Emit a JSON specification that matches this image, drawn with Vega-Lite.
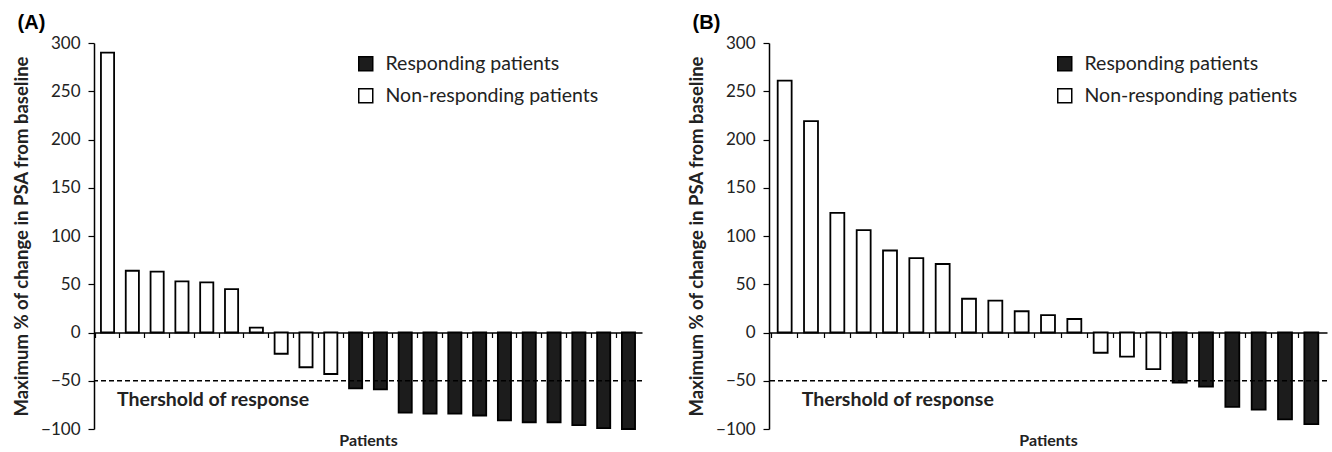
{
  "$schema": "https://vega.github.io/schema/vega-lite/v6.json",
  "padding": {"left": 12, "top": 13, "right": 0, "bottom": 0},
  "background": "white",
  "config": {
    "view": {"stroke": null},
    "font": "Lato",
    "axis": {"grid": false, "domainColor": "black", "tickColor": "black", "domainWidth": 1.5, "tickWidth": 1.2, "labelColor": "#222", "titleColor": "#222", "labelFont": "Lato", "titleFont": "Lato"},
    "title": {"font": "Liberation Sans", "fontSize": 20, "fontWeight": "bold", "anchor": "start", "frame": "bounds", "color": "black", "offset": 1, "dx": 5}
  },
  "datasets": {
    "a": [
      {"patient": 1, "change": 290, "group": "Non-responding patients"},
      {"patient": 2, "change": 64, "group": "Non-responding patients"},
      {"patient": 3, "change": 63, "group": "Non-responding patients"},
      {"patient": 4, "change": 53, "group": "Non-responding patients"},
      {"patient": 5, "change": 52, "group": "Non-responding patients"},
      {"patient": 6, "change": 45, "group": "Non-responding patients"},
      {"patient": 7, "change": 5, "group": "Non-responding patients"},
      {"patient": 8, "change": -22, "group": "Non-responding patients"},
      {"patient": 9, "change": -36, "group": "Non-responding patients"},
      {"patient": 10, "change": -43, "group": "Non-responding patients"},
      {"patient": 11, "change": -58, "group": "Responding patients"},
      {"patient": 12, "change": -59, "group": "Responding patients"},
      {"patient": 13, "change": -83, "group": "Responding patients"},
      {"patient": 14, "change": -84, "group": "Responding patients"},
      {"patient": 15, "change": -84, "group": "Responding patients"},
      {"patient": 16, "change": -86, "group": "Responding patients"},
      {"patient": 17, "change": -91, "group": "Responding patients"},
      {"patient": 18, "change": -93, "group": "Responding patients"},
      {"patient": 19, "change": -93, "group": "Responding patients"},
      {"patient": 20, "change": -96, "group": "Responding patients"},
      {"patient": 21, "change": -99, "group": "Responding patients"},
      {"patient": 22, "change": -100, "group": "Responding patients"}
    ],
    "b": [
      {"patient": 1, "change": 261, "group": "Non-responding patients"},
      {"patient": 2, "change": 219, "group": "Non-responding patients"},
      {"patient": 3, "change": 124, "group": "Non-responding patients"},
      {"patient": 4, "change": 106, "group": "Non-responding patients"},
      {"patient": 5, "change": 85, "group": "Non-responding patients"},
      {"patient": 6, "change": 77, "group": "Non-responding patients"},
      {"patient": 7, "change": 71, "group": "Non-responding patients"},
      {"patient": 8, "change": 35, "group": "Non-responding patients"},
      {"patient": 9, "change": 33, "group": "Non-responding patients"},
      {"patient": 10, "change": 22, "group": "Non-responding patients"},
      {"patient": 11, "change": 18, "group": "Non-responding patients"},
      {"patient": 12, "change": 14, "group": "Non-responding patients"},
      {"patient": 13, "change": -21, "group": "Non-responding patients"},
      {"patient": 14, "change": -25, "group": "Non-responding patients"},
      {"patient": 15, "change": -38, "group": "Non-responding patients"},
      {"patient": 16, "change": -52, "group": "Responding patients"},
      {"patient": 17, "change": -56, "group": "Responding patients"},
      {"patient": 18, "change": -77, "group": "Responding patients"},
      {"patient": 19, "change": -80, "group": "Responding patients"},
      {"patient": 20, "change": -90, "group": "Responding patients"},
      {"patient": 21, "change": -95, "group": "Responding patients"}
    ],
    "threshold": [
      {"patient": 1, "threshold": -50, "label": "Thershold of response"}
    ]
  },
  "resolve": {"scale": {"fill": "independent"}, "legend": {"fill": "independent"}},
  "spacing": 44,
  "hconcat": [
    {
      "title": {"text": "(A)"},
      "width": 548,
      "height": 386,
      "layer": [
        {
          "data": {"name": "a"},
          "mark": {"type": "bar", "stroke": "black", "strokeWidth": 1.8},
          "encoding": {
            "x": {
              "field": "patient", "type": "ordinal",
              "scale": {"paddingInner": 0.47, "paddingOuter": 0.28},
              "axis": {"title": "Patients", "labels": false, "ticks": true, "tickSize": 5, "bandPosition": -0.443, "offset": -96.5, "titleFontSize": 16, "titleFontWeight": "bold", "titleY": 108, "titleBaseline": "middle"}
            },
            "y": {
              "field": "change", "type": "quantitative",
              "scale": {"domain": [-100, 300], "nice": false},
              "axis": {"values": [-100, -50, 0, 50, 100, 150, 200, 250, 300], "tickSize": 6, "labelPadding": 8, "labelFontSize": 17, "title": "Maximum % of change in PSA from baseline", "titleFontSize": 18.5, "titleFontWeight": "bold", "titlePadding": 9}
            },
            "fill": {
              "field": "group", "type": "nominal",
              "scale": {"domain": ["Responding patients", "Non-responding patients"], "range": ["#1c1c1c", "#ffffff"]},
              "legend": {"orient": "none", "legendX": 262, "legendY": 11, "title": null, "symbolType": "square", "symbolSize": 196, "symbolStrokeColor": "black", "symbolStrokeWidth": 1.5, "labelFontSize": 19.5, "labelFont": "Lato", "labelColor": "#222", "labelOffset": 10, "labelLimit": 400, "rowPadding": 11, "padding": 0}
            }
          }
        },
        {
          "data": {"name": "threshold"},
          "mark": {"type": "rule", "strokeDash": [5, 3], "strokeWidth": 1.5, "color": "black"},
          "encoding": {"y": {"field": "threshold", "type": "quantitative"}}
        },
        {
          "data": {"name": "threshold"},
          "mark": {"type": "text", "align": "left", "baseline": "middle", "fontSize": 19.5, "fontWeight": "bold", "font": "Lato", "color": "#222", "dx": 16, "dy": 19},
          "encoding": {
            "x": {"field": "patient", "type": "ordinal", "bandPosition": 0},
            "y": {"field": "threshold", "type": "quantitative"},
            "text": {"field": "label"}
          }
        }
      ]
    },
    {
      "title": {"text": "(B)"},
      "width": 558,
      "height": 386,
      "layer": [
        {
          "data": {"name": "b"},
          "mark": {"type": "bar", "stroke": "black", "strokeWidth": 1.8},
          "encoding": {
            "x": {
              "field": "patient", "type": "ordinal",
              "scale": {"paddingInner": 0.47, "paddingOuter": 0.33},
              "axis": {"title": "Patients", "labels": false, "ticks": true, "tickSize": 5, "bandPosition": -0.443, "offset": -96.5, "titleFontSize": 16, "titleFontWeight": "bold", "titleY": 108, "titleBaseline": "middle"}
            },
            "y": {
              "field": "change", "type": "quantitative",
              "scale": {"domain": [-100, 300], "nice": false},
              "axis": {"values": [-100, -50, 0, 50, 100, 150, 200, 250, 300], "tickSize": 6, "labelPadding": 8, "labelFontSize": 17, "title": "Maximum % of change in PSA from baseline", "titleFontSize": 18.5, "titleFontWeight": "bold", "titlePadding": 9}
            },
            "fill": {
              "field": "group", "type": "nominal",
              "scale": {"domain": ["Responding patients", "Non-responding patients"], "range": ["#1c1c1c", "#ffffff"]},
              "legend": {"orient": "none", "legendX": 286, "legendY": 11, "title": null, "symbolType": "square", "symbolSize": 196, "symbolStrokeColor": "black", "symbolStrokeWidth": 1.5, "labelFontSize": 19.5, "labelFont": "Lato", "labelColor": "#222", "labelOffset": 10, "labelLimit": 400, "rowPadding": 11, "padding": 0}
            }
          }
        },
        {
          "data": {"name": "threshold"},
          "mark": {"type": "rule", "strokeDash": [5, 3], "strokeWidth": 1.5, "color": "black"},
          "encoding": {"y": {"field": "threshold", "type": "quantitative"}}
        },
        {
          "data": {"name": "threshold"},
          "mark": {"type": "text", "align": "left", "baseline": "middle", "fontSize": 19.5, "fontWeight": "bold", "font": "Lato", "color": "#222", "dx": 24, "dy": 19},
          "encoding": {
            "x": {"field": "patient", "type": "ordinal", "bandPosition": 0},
            "y": {"field": "threshold", "type": "quantitative"},
            "text": {"field": "label"}
          }
        }
      ]
    }
  ]
}
